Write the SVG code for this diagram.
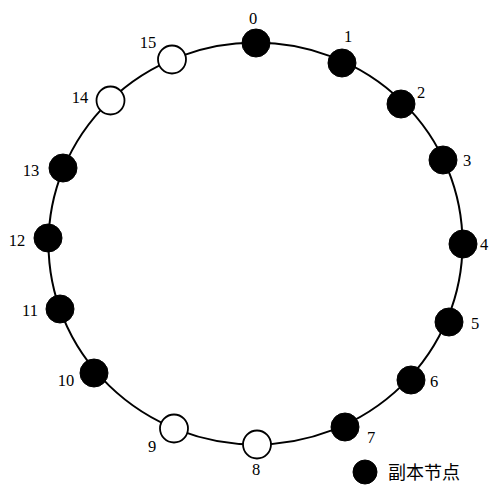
<svg xmlns="http://www.w3.org/2000/svg" width="491" height="486" viewBox="0 0 491 486">
<style>
.ring{fill:none;stroke:#000;stroke-width:2}
.full{fill:#000;stroke:#000;stroke-width:1}
.empty{fill:#fff;stroke:#000;stroke-width:1.8}
.lbl{font-family:"Liberation Serif","Times New Roman",serif;font-size:16.5px;fill:#000}
.leg{font-family:"Noto Sans CJK SC",sans-serif;font-size:18px;fill:#000}
</style>
<g id="connectors">
<ellipse class="ring" cx="255.5" cy="243.5" rx="207" ry="201"/>
</g>
<g id="n0"><circle class="full" cx="256" cy="43" r="14"/><text class="lbl" x="253" y="24" text-anchor="middle">0</text></g>
<g id="n1"><circle class="full" cx="342" cy="63" r="14"/><text class="lbl" x="348" y="42" text-anchor="middle">1</text></g>
<g id="n2"><circle class="full" cx="401" cy="104" r="14"/><text class="lbl" x="421" y="98" text-anchor="middle">2</text></g>
<g id="n3"><circle class="full" cx="443" cy="160" r="14"/><text class="lbl" x="467" y="166" text-anchor="middle">3</text></g>
<g id="n4"><circle class="full" cx="463" cy="244" r="14"/><text class="lbl" x="484" y="250" text-anchor="middle">4</text></g>
<g id="n5"><circle class="full" cx="449" cy="322" r="14"/><text class="lbl" x="475" y="329" text-anchor="middle">5</text></g>
<g id="n6"><circle class="full" cx="411" cy="380" r="14"/><text class="lbl" x="434" y="387" text-anchor="middle">6</text></g>
<g id="n7"><circle class="full" cx="345" cy="427" r="14"/><text class="lbl" x="371" y="443" text-anchor="middle">7</text></g>
<g id="n8"><circle class="empty" cx="257" cy="444.5" r="14"/><text class="lbl" x="256" y="475" text-anchor="middle">8</text></g>
<g id="n9"><circle class="empty" cx="174" cy="428.5" r="14"/><text class="lbl" x="152" y="452" text-anchor="middle">9</text></g>
<g id="n10"><circle class="full" cx="94" cy="373" r="14"/><text class="lbl" x="66" y="386" text-anchor="middle">10</text></g>
<g id="n11"><circle class="full" cx="60" cy="309" r="14"/><text class="lbl" x="30" y="316" text-anchor="middle">11</text></g>
<g id="n12"><circle class="full" cx="48" cy="238" r="14"/><text class="lbl" x="17" y="246" text-anchor="middle">12</text></g>
<g id="n13"><circle class="full" cx="63" cy="168" r="14"/><text class="lbl" x="31" y="176" text-anchor="middle">13</text></g>
<g id="n14"><circle class="empty" cx="110.5" cy="100.5" r="14"/><text class="lbl" x="80" y="103" text-anchor="middle">14</text></g>
<g id="n15"><circle class="empty" cx="172" cy="59.5" r="14"/><text class="lbl" x="148" y="48" text-anchor="middle">15</text></g>
<g id="legend"><circle class="full" cx="365" cy="472" r="12"/><text class="leg" x="388" y="479">副本节点</text></g>
</svg>
